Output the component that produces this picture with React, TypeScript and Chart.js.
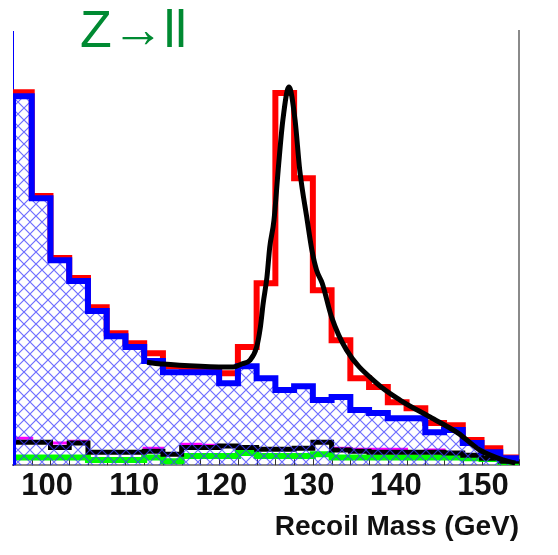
import React, { useEffect, useRef } from 'react';
import { Chart, registerables } from 'chart.js';

Chart.register(...registerables);

// ---- data -------------------------------------------------------------
const binLowEdges = [96, 98, 100, 102, 104, 106, 108, 110, 112, 114, 116, 118, 120, 122, 124, 126, 128, 130, 132, 134, 136, 138, 140, 142, 144, 146, 148];
const binUpperEdge = 150;

// signal + background (red)
const signalPlusBkg = [859, 620, 477, 431, 364, 304, 281, 258, 228, 226, 223, 212, 272, 419, 857, 661, 403, 288, 200, 180, 145, 131, 97, 92, 58, 39, 18];
// ZZ / WW background (blue, hatched)
const background = [850, 615, 472, 424, 355, 297, 272, 240, 214, 214, 214, 189, 228, 200, 173, 182, 150, 157, 127, 120, 108, 108, 76, 81, 51, 30, 16];
// small backgrounds near the bottom
const bkgMagenta = [62, 53, 51, 55, 30, 30, 30, 39, 25, 48, 46, 44, 41, 37, 37, 39, 53, 39, 37, 37, 37, 30, 35, 28, 23, 16, 9];
const bkgBlack = [53, 53, 41, 51, 30, 30, 30, 32, 25, 41, 41, 44, 41, 37, 37, 39, 53, 35, 32, 30, 30, 30, 30, 28, 23, 16, 9];
const bkgGreen = [18, 18, 18, 18, 12, 12, 12, 18, 9, 21, 21, 21, 28, 21, 21, 21, 25, 18, 18, 18, 18, 18, 18, 18, 16, 14, 7];

// fitted curve (black)
const fitMass = [110.3, 112, 116, 119.5, 120.4, 121.3, 122.0, 122.4, 122.7, 123.1, 123.4, 123.85, 124.3, 124.8, 125.45, 126.1, 126.6, 127.4, 127.9, 128.4, 129.0, 130.0, 131.6, 134.8, 137.3, 140.5, 143.5, 145.8, 148.3, 149.6];
const fitValues = [237, 233, 228, 226, 233, 242, 272, 318, 373, 433, 502, 564, 680, 795, 871, 795, 680, 564, 495, 449, 419, 341, 265, 189, 150, 111, 74, 35, 12, 5];

const xTickLabels = [100, 110, 120, 130, 140, 150];
const titleText = 'Z\u2192ll';
const xAxisTitle = 'Recoil Mass (GeV)';

// ---- helpers ----------------------------------------------------------
function histPoints(values: number[], fromZero: boolean) {
  const pts: { x: number; y: number }[] = [];
  if (fromZero) pts.push({ x: binLowEdges[0], y: 0 });
  values.forEach((v, i) => pts.push({ x: binLowEdges[i], y: v }));
  pts.push({ x: binUpperEdge, y: values[values.length - 1] });
  return pts;
}

function makeHatch(): CanvasPattern | string {
  const s = 12;
  const c = document.createElement('canvas');
  c.width = s;
  c.height = s;
  const g = c.getContext('2d');
  if (!g) return 'rgba(80,80,255,0.3)';
  g.strokeStyle = 'rgba(60,60,255,0.75)';
  g.lineWidth = 1.2;
  g.beginPath();
  g.moveTo(0, 0); g.lineTo(s, s);
  g.moveTo(s, 0); g.lineTo(0, s);
  g.stroke();
  const p = g.createPattern(c, 'repeat');
  return p || 'rgba(80,80,255,0.3)';
}

const FONT = '"Liberation Sans", Arial, Helvetica, sans-serif';

const innerTicks = {
  id: 'innerTicks',
  beforeDatasetsDraw(chart: any) {
    const { ctx, chartArea, scales } = chart;
    const xs = scales.x;
    ctx.save();
    ctx.strokeStyle = '#333';
    ctx.lineWidth = 1;
    [...binLowEdges, binUpperEdge].forEach((e) => {
      const px = Math.round(xs.getPixelForValue(e)) + 0.5;
      ctx.beginPath();
      ctx.moveTo(px, chartArea.bottom);
      ctx.lineTo(px, chartArea.bottom - 6);
      ctx.stroke();
    });
    ctx.restore();
  },
};

const cornerTitle = {
  id: 'cornerTitle',
  afterDraw(chart: any) {
    const { ctx, chartArea } = chart;
    ctx.save();
    ctx.font = `52px ${FONT}`;
    ctx.fillStyle = '#008a32';
    ctx.textBaseline = 'alphabetic';
    ctx.textAlign = 'left';
    ctx.fillText(titleText, chartArea.left + 67, chartArea.top + 16);
    ctx.restore();
  },
};

export default function App() {
  const ref = useRef<HTMLCanvasElement>(null);

  useEffect(() => {
    document.body.style.margin = '0';
    const canvas = ref.current;
    if (!canvas) return;
    const hatch = makeHatch();

    const lineBase = {
      pointRadius: 0,
      stepped: true as const,
      borderJoinStyle: 'miter' as const,
      borderCapStyle: 'butt' as const,
      xAxisID: 'x',
      yAxisID: 'y',
      clip: 0,
    };

    const noGrid = { display: false, drawTicks: false, tickLength: 0 };

    const chart = new Chart(canvas, {
      type: 'line',
      data: {
        datasets: [
          {
            ...lineBase,
            label: 'fit',
            data: fitMass.map((m, i) => ({ x: m, y: fitValues[i] })),
            stepped: false,
            borderColor: '#000000',
            borderWidth: 5,
            cubicInterpolationMode: 'monotone',
            fill: false,
            order: 0,
            borderJoinStyle: 'round',
          },
          {
            ...lineBase,
            label: 'background',
            data: histPoints(background, true),
            borderColor: '#0000ff',
            borderWidth: 6,
            backgroundColor: hatch as any,
            fill: 'origin',
            order: 1,
          },
          {
            ...lineBase,
            label: 'signal+background',
            data: histPoints(signalPlusBkg, true),
            borderColor: '#ff0000',
            borderWidth: 6,
            fill: false,
            order: 2,
          },
          {
            ...lineBase,
            label: 'bkg black',
            data: histPoints(bkgBlack, false),
            borderColor: '#000000',
            borderWidth: 5,
            fill: false,
            order: 3,
          },
          {
            ...lineBase,
            label: 'bkg magenta',
            data: histPoints(bkgMagenta, false),
            borderColor: '#ff00ff',
            borderWidth: 3,
            fill: false,
            order: 4,
          },
          {
            ...lineBase,
            label: 'bkg green',
            data: histPoints(bkgGreen, false),
            borderColor: '#00ff00',
            borderWidth: 6,
            fill: false,
            order: 5,
          },
        ] as any,
      },
      options: {
        responsive: false,
        animation: false,
        devicePixelRatio: 1,
        events: [],
        layout: { padding: { left: 13, right: 39, top: 31, bottom: 5 } },
        plugins: {
          legend: { display: false },
          tooltip: { enabled: false },
          title: { display: false },
        },
        scales: {
          x: {
            type: 'linear',
            position: 'bottom',
            min: 96,
            max: 150,
            weight: 0,
            ticks: { display: false },
            grid: noGrid,
            border: { display: true, color: '#8a8a8a', width: 2 },
          },
          xl: {
            type: 'linear',
            axis: 'x',
            position: 'bottom',
            min: 96.1,
            max: 154.13,
            weight: 1,
            afterBuildTicks: (s: any) => {
              s.ticks = xTickLabels.map((v) => ({ value: v }));
            },
            grid: noGrid,
            border: { display: false },
            ticks: {
              autoSkip: false,
              maxRotation: 0,
              padding: 3,
              color: '#111111',
              font: { family: FONT, size: 31, weight: 'bold' },
              callback: (v: any) => String(v),
            },
            title: {
              display: true,
              text: xAxisTitle,
              align: 'end',
              color: '#111111',
              font: { family: FONT, size: 28, weight: 'bold' },
              padding: { top: 2, bottom: 6 },
            },
          },
          y: {
            type: 'linear',
            position: 'left',
            min: 0,
            max: 1000,
            ticks: { display: false },
            grid: noGrid,
            border: { display: true, color: '#0000ff', width: 1 },
          },
          yr: {
            type: 'linear',
            axis: 'y',
            position: 'right',
            min: 0,
            max: 1000,
            ticks: { display: false },
            grid: noGrid,
            border: { display: true, color: '#8a8a8a', width: 2 },
          },
        } as any,
      },
      plugins: [innerTicks, cornerTitle],
    });

    return () => chart.destroy();
  }, []);

  return (
    <div style={{ width: 558, height: 555 }}>
      <canvas ref={ref} width={558} height={555} style={{ display: 'block' }} />
    </div>
  );
}
